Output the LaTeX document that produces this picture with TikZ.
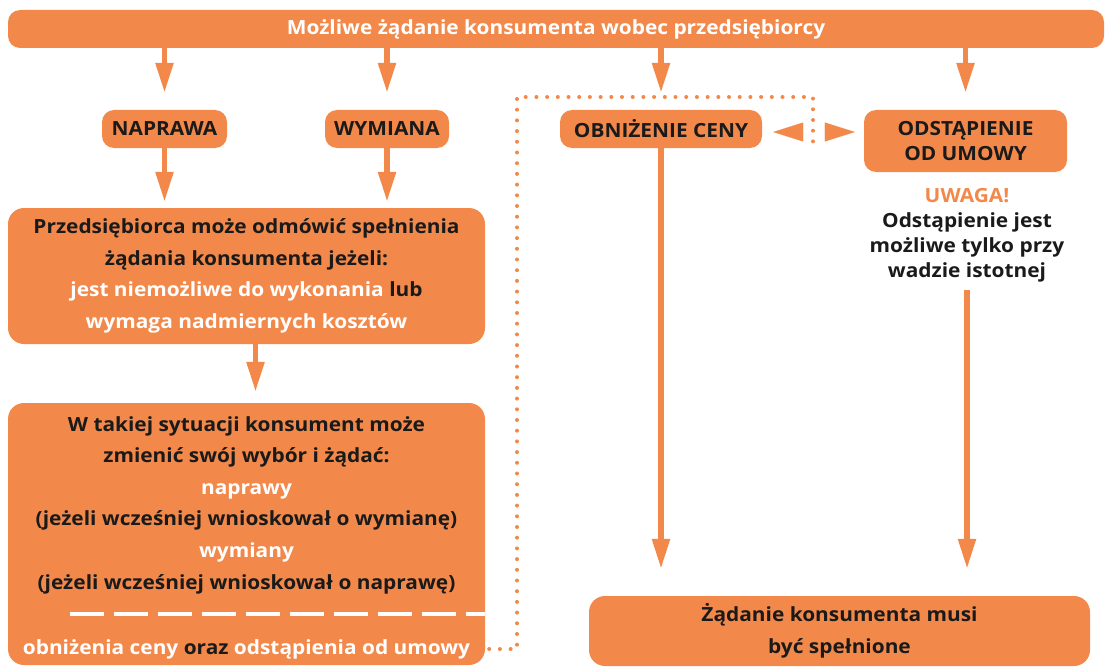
\documentclass[tikz,border=0pt]{standalone}
\usepackage{fontspec}
\setmainfont{Open Sans}[FakeStretch=1.07]
\usetikzlibrary{arrows.meta}
\definecolor{org}{HTML}{F2894A}
\definecolor{ink}{HTML}{1A1A1A}
\begin{document}
\begin{tikzpicture}[x=1pt,y=-1pt,
  box/.style={fill=org, rounded corners=12pt, inner sep=0pt, align=center, text=ink,
    font=\fontsize{19.5}{31.6}\selectfont\bfseries},
  txt/.style={inner sep=0pt, align=center, text=ink, font=\fontsize{19.5}{31.6}\selectfont\bfseries},
  arr/.style={draw=org, line width=5.5pt, -{Triangle[length=30pt,width=17pt]}},
  tri/.style={draw=org, fill=org, line width=0.01pt, -{Triangle[length=30pt,width=19pt]}},
  dotline/.style={draw=org, line width=4pt, line cap=round, dash pattern=on 0pt off 10.7pt},
  dashw/.style={draw=white, line width=4.3pt, dash pattern=on 34pt off 10pt}]
\useasboundingbox (0,0) rectangle (1107,666);

\node[box, text=white, minimum width=1096pt, minimum height=38pt] (bar) at (556,29)
  {Możliwe żądanie konsumenta wobec przedsiębiorcy};

\node[box, minimum width=125pt, minimum height=38pt] (napr) at (164.5,129) {NAPRAWA};
\node[box, minimum width=124pt, minimum height=38pt] (wym) at (387,129) {WYMIANA};
\node[box, minimum width=202pt, minimum height=38pt] (obn) at (661,129) {OBNIŻENIE CENY};
\node[box, minimum width=203pt, minimum height=62pt, font=\fontsize{19.5}{25}\selectfont\bfseries] (ods) at (965.5,141)
  {ODSTĄPIENIE\\OD UMOWY};

\node[txt, font=\fontsize{19.5}{25}\selectfont\bfseries] (note) at (967,235)
  {\textcolor{org}{UWAGA!}\\Odstąpienie jest\\możliwe tylko przy\\wadzie istotnej};

\node[box, rounded corners=16pt, minimum width=477pt, minimum height=136pt] (box1) at (246.5,276)
  {Przedsiębiorca może odmówić spełnienia\\
   żądania konsumenta jeżeli:\\
   \textcolor{white}{jest niemożliwe do wykonania} lub\\
   \textcolor{white}{wymaga nadmiernych kosztów}};

\node[box, rounded corners=16pt, minimum width=477pt, minimum height=262pt] (box2) at (246.5,534) {};
\node[txt] (box2txt) at (246.5,505)
  {W takiej sytuacji konsument może\\
   zmienić swój wybór i żądać:\\
   \textcolor{white}{naprawy}\\
   (jeżeli wcześniej wnioskował o wymianę)\\
   \textcolor{white}{wymiany}\\
   (jeżeli wcześniej wnioskował o naprawę)};
\node[txt] (box2last) at (246.5,649)
  {\textcolor{white}{obniżenia ceny} oraz \textcolor{white}{odstąpienia od umowy}};
\coordinate (dashA) at (70,614);
\draw[dashw] (dashA) -- (dashA -| box2.east);

\node[box, rounded corners=16pt, minimum width=501pt, minimum height=70pt] (box3) at (839.5,631)
  {Żądanie konsumenta musi\\być spełnione};

% arrows from the top bar
\draw[arr, shorten >=17pt] (bar.south -| napr) -- (napr.north);
\draw[arr, shorten >=17pt] (bar.south -| wym) -- (wym.north);
\draw[arr, shorten >=17pt] (bar.south -| obn) -- (obn.north);
\draw[arr, shorten >=17pt] (bar.south -| ods) -- (ods.north);

\draw[arr, shorten >=6pt] (napr.south) -- (napr.south |- box1.north);
\draw[arr, shorten >=6pt] (wym.south) -- (wym.south |- box1.north);
\draw[arr, shorten >=11pt] ([xshift=9pt]box1.south) -- ([xshift=9pt]box1.south |- box2.north);
\draw[arr, shorten >=27pt] (obn.south) -- (obn.south |- box3.north);
\draw[arr, shorten >=27pt] ([yshift=-8pt]note.south) -- (note.south |- box3.north);

% dotted connector
\coordinate (dl) at (517,97);
\coordinate (dr) at (813,97);
\coordinate (dre) at (813,142);
\draw[dotline] (box2last.east -| box2.east) ++(4,0) -| (dl) -- (dr) -- (dre);

\coordinate (tl) at (803,132);
\coordinate (trr) at (825,132);
\draw[tri, shorten >=11pt] (tl) -- (tl -| obn.east);
\draw[tri, shorten >=9pt] (trr) -- (trr -| ods.west);
\end{tikzpicture}
\end{document}
